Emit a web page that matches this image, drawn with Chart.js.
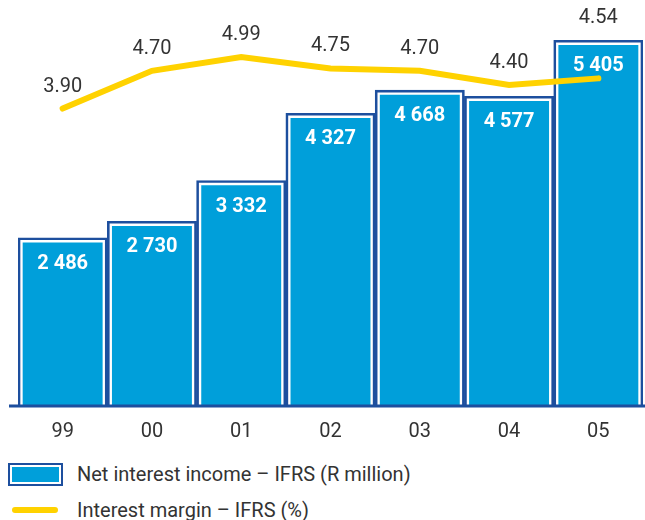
<!DOCTYPE html>
<html>
<head>
<meta charset="utf-8">
<script src="https://cdn.jsdelivr.net/npm/chart.js@4"></script>
<style>
  body { margin: 0; background: #fff; font-family: Roboto, sans-serif; }
  #wrap { position: relative; width: 645px; height: 520px; }
  #chartBox { position: absolute; left: 0; top: 0; width: 645px; height: 460px; }
  .legend-row { position: absolute; left: 0; display: flex; align-items: center; font-size: 20px; color: #333; }
  .swatch-bar { width: 55px; height: 23px; box-sizing: border-box; border: 2px solid #1d4f9e;
    background: #009fda; box-shadow: inset 0 0 0 2px #fff; margin-left: 8px; }
  .swatch-line { width: 46px; height: 6px; border-radius: 3px; background: #ffd200; margin-left: 12px; margin-right: 9px; }
</style>
</head>
<body>
<div id="wrap">
  <div id="chartBox"><canvas id="nimChart"></canvas></div>
  <div class="legend-row" style="top:462px">
    <div class="swatch-bar"></div><span style="margin-left:14px">Net interest income – IFRS (R million)</span>
  </div>
  <div class="legend-row" style="top:498px">
    <div class="swatch-line"></div><span style="margin-left:10px">Interest margin – IFRS (%)</span>
  </div>
</div>
<script>
const years = ["99", "00", "01", "02", "03", "04", "05"];
const netIncome = [2486, 2730, 3332, 4327, 4668, 4577, 5405];
const margin = [3.90, 4.70, 4.99, 4.75, 4.70, 4.40, 4.54];

const BLUE = "#009fda";
const DARK_BLUE = "#1d4f9e";
const YELLOW = "#ffd200";
const TEXT = "#333333";

function fmtThousands(v) {
    return String(v).replace(/\B(?=(\d{3})+(?!\d))/g, " ");
}

// value labels + baseline drawn on top of the datasets
const labelsPlugin = {
    id: "labels",
    afterDatasetsDraw(chart) {
        const ctx = chart.ctx;
        const barMeta = chart.getDatasetMeta(1);
        const lineMeta = chart.getDatasetMeta(2);
        const base = chart.scales.y.getPixelForValue(0);

        ctx.save();
        ctx.strokeStyle = DARK_BLUE;
        ctx.lineWidth = 3;
        ctx.beginPath();
        ctx.moveTo(9, base);
        ctx.lineTo(chart.width, base);
        ctx.stroke();

        ctx.textAlign = "center";
        ctx.textBaseline = "middle";

        ctx.fillStyle = "#fff";
        ctx.font = "bold 20px Roboto";
        barMeta.data.forEach((bar, i) => {
            ctx.fillText(fmtThousands(netIncome[i]), bar.x, bar.y + 26);
        });

        ctx.fillStyle = TEXT;
        ctx.font = "20px Roboto";
        lineMeta.data.forEach((pt, i) => {
            const top = Math.min(pt.y, barMeta.data[i].y);
            ctx.fillText(margin[i].toFixed(2), pt.x, top - 22);
        });
        ctx.restore();
    }
};

new Chart(document.getElementById("nimChart"), {
    data: {
        labels: years,
        datasets: [
            {
                type: "bar",
                data: netIncome,
                backgroundColor: BLUE,
                borderColor: "#fff",
                borderWidth: 5,
                grouped: false,
                barPercentage: 1,
                categoryPercentage: 1,
                order: 3
            },
            {
                type: "bar",
                data: netIncome,
                backgroundColor: "rgba(0,0,0,0)",
                borderColor: DARK_BLUE,
                borderWidth: 2,
                grouped: false,
                barPercentage: 1,
                categoryPercentage: 1,
                order: 2
            },
            {
                type: "line",
                data: margin,
                yAxisID: "y1",
                borderColor: YELLOW,
                borderWidth: 6,
                borderCapStyle: "round",
                pointRadius: 0,
                tension: 0,
                order: 1
            }
        ]
    },
    options: {
        responsive: true,
        maintainAspectRatio: false,
        animation: false,
        layout: { padding: { left: 18, right: 2, top: 0, bottom: 0 } },
        plugins: {
            legend: { display: false },
            tooltip: { enabled: false }
        },
        scales: {
            x: {
                grid: { display: false },
                border: { display: false },
                ticks: { color: TEXT, font: { family: "Roboto", size: 20 }, padding: 6 },
                afterFit(scale) { scale.height = 54; }
            },
            y: { display: false, min: 0, max: 6000 },
            y1: { display: false, min: -2.4, max: 6.2 }
        }
    },
    plugins: [labelsPlugin]
});
</script>
</body>
</html>
